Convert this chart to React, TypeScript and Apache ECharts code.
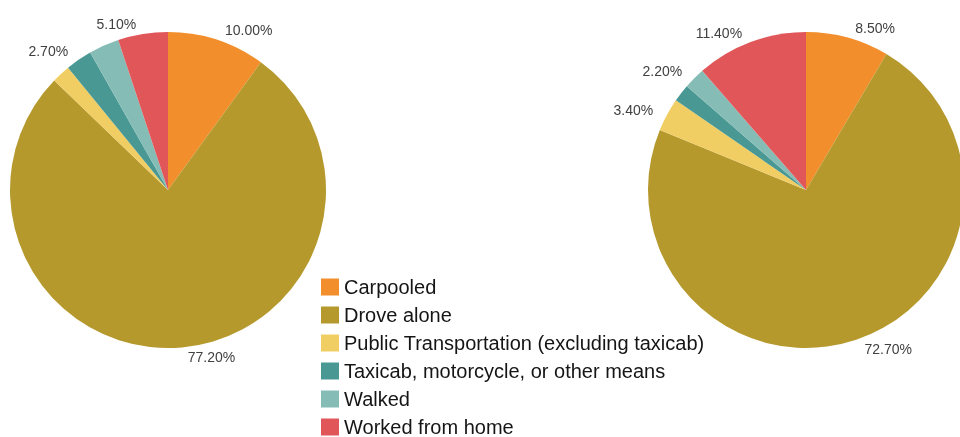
import React, { useEffect, useRef } from "react";
import * as echarts from "echarts";

const categories = [
  "Carpooled",
  "Drove alone",
  "Public Transportation (excluding taxicab)",
  "Taxicab, motorcycle, or other means",
  "Walked",
  "Worked from home",
];
const leftValues = [10.0, 77.2, 1.9, 2.7, 3.1, 5.1];
const rightValues = [8.5, 72.7, 3.4, 1.8, 2.2, 11.4];
const leftLabeled = ["Carpooled", "Drove alone", "Taxicab, motorcycle, or other means", "Worked from home"];
const rightLabeled = ["Carpooled", "Drove alone", "Public Transportation (excluding taxicab)", "Walked", "Worked from home"];
const colors = ["#F28E2B", "#B6992D", "#F1CE63", "#499894", "#86BCB6", "#E15759"];

const makeSeries = (values: number[], labeled: string[], center: [number, number]) => ({
  type: "pie",
  center,
  radius: 158,
  startAngle: 90,
  clockwise: true,
  avoidLabelOverlap: false,
  itemStyle: { borderWidth: 0 },
  label: {
    position: "outside",
    alignTo: "none",
    fontFamily: "Liberation Sans, Arial, sans-serif",
    fontSize: 14,
    color: "#404040",
    formatter: (p: any) => p.value.toFixed(2) + "%",
  },
  labelLine: { show: false, length: 10, length2: 0 },
  emphasis: { disabled: true },
  data: categories.map((name, i) => ({
    name,
    value: values[i],
    label: { show: labeled.includes(name) },
  })),
});

export default function App() {
  const ref = useRef<HTMLDivElement>(null);
  useEffect(() => {
    if (!ref.current) return;
    const chart = echarts.init(ref.current, null, { renderer: "svg" });
    chart.setOption({
      animation: false,
      color: colors,
      legend: {
        orient: "vertical",
        left: 316,
        top: 272,
        itemWidth: 18,
        itemHeight: 17,
        itemGap: 8,
        icon: "rect",
        selectedMode: false,
        data: categories,
        textStyle: {
          fontFamily: "Liberation Sans, Arial, sans-serif",
          fontSize: 20,
          lineHeight: 20,
          color: "#151515",
        },
      },
      series: [
        makeSeries(leftValues, leftLabeled, [168, 190]),
        makeSeries(rightValues, rightLabeled, [806, 190]),
      ],
    });
    return () => chart.dispose();
  }, []);
  return (
    <div
      ref={ref}
      style={{ position: "fixed", left: 0, top: 0, width: 960, height: 470 }}
    />
  );
}
